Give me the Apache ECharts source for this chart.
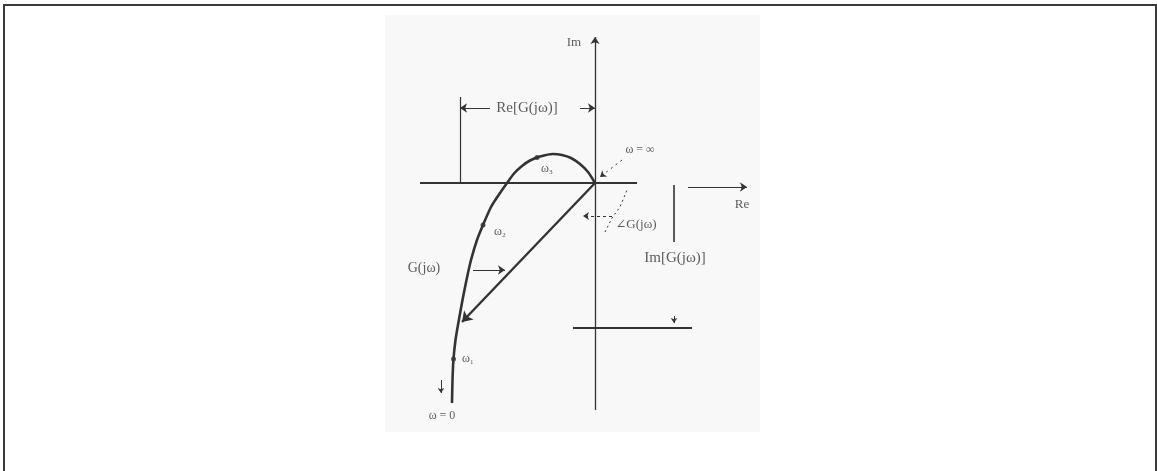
<!DOCTYPE html>
<html>
<head>
<meta charset="utf-8">
<script src="https://cdn.jsdelivr.net/npm/echarts@6/dist/echarts.min.js"></script>
<style>
  body { margin: 0; background: #fff; }
  #frame { position: absolute; left: 3px; top: 4px; width: 1150px; height: 480px;
           border: 2px solid #3a3a3a; border-bottom: none; }
  #nyquist { position: absolute; left: 0; top: 0; width: 1157px; height: 471px; }
</style>
</head>
<body>
<div id="frame"></div>
<div id="nyquist"></div>
<script>
// G(jw) locus, from w = 0 (bottom) to w = inf (origin)
var locus = [
  [-14.3, -22.0], [-14.25, -19.7], [-14.15, -17.6], [-13.95, -15.7], [-13.65, -13.9],
  [-13.25, -11.7], [-12.85, -9.7], [-12.4, -7.7], [-11.8, -5.7], [-11.2, -4.2],
  [-10.4, -2.4], [-9.7, -1.3], [-8.8, 0], [-8.1, 0.95], [-7.3, 1.7], [-6.5, 2.25],
  [-5.5, 2.65], [-4.2, 2.9], [-3.3, 2.8], [-2.4, 2.5], [-1.5, 1.9],
  [-0.7, 1.1], [0, 0]
];
var freqPoints = [[-14.15, -17.6], [-11.2, -4.2], [-5.8, 2.55]];

var imAxis = [[0, -22.7], [0, 14.6]];
var reAxis = [[-17.5, 0], [4.2, 0]];
var reArrow = [[9.3, -0.4], [15.2, -0.4]];
var phasor = [[0, 0], [-13.3, -13.9]];

var reDimLine = [[-13.5, 8.6], [-13.5, 0]];
var reDimLeft = [[-10.5, 7.5], [-13.5, 7.5]];
var reDimRight = [[-1.5, 7.5], [0, 7.5]];
var imDimLine = [[7.9, -0.2], [7.9, -5.9]];
var imDimArrow = [[7.9, -13.3], [7.9, -14.0]];
var imDimBase = [[-2.2, -14.5], [9.7, -14.5]];
var gLeader = [[-12.2, -8.7], [-9.0, -8.7]];
var angleArc = [[1.0, -4.9], [1.7, -3.5], [2.5, -2.4], [3.2, -0.7]];
var angleLeader = [[1.7, -3.3], [-1.2, -3.3]];
var infLeader = [[2.7, 2.3], [0.5, 0.6]];
var zeroArrow = [[-15.4, -19.7], [-15.4, -21.0]];

var labels = [
  {name: 'Im', value: [-2.1, 14.0], size: 13},
  {name: 'Re[G(jω)]', value: [-6.8, 7.5], size: 15},
  {name: 'ω = ∞', value: [4.5, 3.3], size: 12},
  {name: 'ω₃', value: [-4.8, 1.4], size: 12},
  {name: 'ω₂', value: [-9.5, -4.9], size: 12},
  {name: 'ω₁', value: [-12.7, -17.6], size: 12},
  {name: 'Re', value: [14.7, -2.2], size: 13},
  {name: '∠G(jω)', value: [4.1, -4.2], size: 13},
  {name: 'Im[G(jω)]', value: [8.0, -7.5], size: 15},
  {name: 'G(jω)', value: [-17.1, -8.5], size: 14},
  {name: 'ω = 0', value: [-15.3, -23.3], size: 12}
];

var ink = '#333';

function seg(coords, opt) {
  opt = opt || {};
  return {
    type: 'lines',
    coordinateSystem: 'cartesian2d',
    polyline: coords.length > 2,
    symbol: ['none', opt.arrow ? 'arrow' : 'none'],
    symbolSize: opt.size || 7,
    silent: true,
    lineStyle: {color: ink, width: opt.width || 1.3, type: opt.dash || 'solid', opacity: 1, curveness: 0},
    data: [{coords: coords}]
  };
}

var chart = echarts.init(document.getElementById('nyquist'), null, {renderer: 'canvas'});
chart.setOption({
  animation: false,
  grid: {left: 385, right: 397, top: 15, bottom: 39, show: true,
         backgroundColor: '#f8f8f8', borderWidth: 0},
  xAxis: {type: 'value', min: -21, max: 16.5, show: false},
  yAxis: {type: 'value', min: -24.9, max: 16.8, show: false},
  series: [
    seg(imAxis, {arrow: true, width: 1.3, size: 7}),
    seg(reAxis, {width: 1.8}),
    seg(reArrow, {arrow: true, width: 1.2}),
    seg(reDimLine, {width: 1.2}),
    seg(reDimLeft, {arrow: true, width: 1}),
    seg(reDimRight, {arrow: true, width: 1}),
    seg(imDimLine, {width: 1.6}),
    seg(imDimArrow, {arrow: true, width: 1, size: 5}),
    seg(imDimBase, {width: 1.8}),
    seg(gLeader, {arrow: true, width: 1}),
    seg(angleArc, {arrow: true, width: 1, dash: [2, 3], size: 6}),
    seg(angleLeader, {arrow: true, width: 1, dash: [3, 3], size: 6}),
    seg(infLeader, {arrow: true, width: 1, dash: [2, 4], size: 6}),
    seg(zeroArrow, {arrow: true, width: 1, size: 5}),
    seg(phasor, {arrow: true, width: 2.4, size: 10}),
    {
      type: 'line',
      data: locus,
      smooth: 0.25,
      showSymbol: false,
      silent: true,
      lineStyle: {color: ink, width: 2.6}
    },
    {
      type: 'scatter',
      data: freqPoints,
      symbolSize: 5,
      silent: true,
      itemStyle: {color: ink}
    },
    {
      type: 'scatter',
      data: labels.map(function (d) {
        return {name: d.name, value: d.value, label: {fontSize: d.size}};
      }),
      symbolSize: 1,
      silent: true,
      itemStyle: {color: 'rgba(0,0,0,0)'},
      label: {
        show: true, position: 'inside', formatter: '{b}',
        fontFamily: '"Liberation Serif", "DejaVu Serif", serif',
        color: '#333'
      }
    }
  ]
});
</script>
</body>
</html>
